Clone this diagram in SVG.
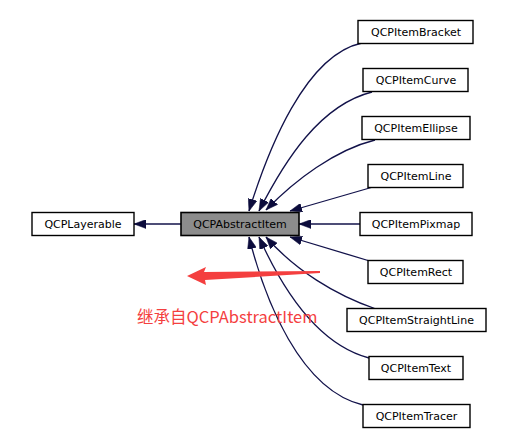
<svg xmlns="http://www.w3.org/2000/svg" width="518" height="444" viewBox="0 0 518 444">
<style>
.box{fill:#fff;stroke:#000;stroke-width:1.4}
.cur{fill:#8c8c8c;stroke:#000;stroke-width:1.6}
.lbl{font-family:"DejaVu Sans",sans-serif;font-size:11px;fill:#000;text-anchor:middle}
.edge{fill:none;stroke:#12124a;stroke-width:1.3}
</style>
<defs>
<marker id="ah" markerUnits="userSpaceOnUse" markerWidth="12" markerHeight="9" refX="12" refY="4.5" orient="auto">
<path d="M0,0 L12,4.5 L0,9 z" fill="#0c0c3c" stroke="#0c0c3c" stroke-width="0.5"/>
</marker>
</defs>
<rect width="518" height="444" fill="#fff"/>
<g id="connectors">
<path class="edge" marker-end="url(#ah)" d="M181,224 L134,224"/>
<path class="edge" marker-end="url(#ah)" d="M362,43 C305,55 268,150 249,211"/>
<path class="edge" marker-end="url(#ah)" d="M372,92 C320,105 285,160 259,211"/>
<path class="edge" marker-end="url(#ah)" d="M375,140 C335,150 295,180 266,210"/>
<path class="edge" marker-end="url(#ah)" d="M373,187 L290,211"/>
<path class="edge" marker-end="url(#ah)" d="M360,224 L299,224"/>
<path class="edge" marker-end="url(#ah)" d="M373,262 L290,237"/>
<path class="edge" marker-end="url(#ah)" d="M376,309 C335,295 295,270 266,237"/>
<path class="edge" marker-end="url(#ah)" d="M369,358 C320,345 285,295 259,237"/>
<path class="edge" marker-end="url(#ah)" d="M363,405 C300,390 265,300 249,237"/>
</g>
<g id="n_layerable"><rect class="box" x="32" y="212.5" width="102" height="23"/><text class="lbl" x="83" y="228">QCPLayerable</text></g>
<g id="n_abstractitem"><rect class="cur" x="181" y="212.5" width="118" height="23"/><text class="lbl" x="240" y="228">QCPAbstractItem</text></g>
<g id="n_bracket"><rect class="box" x="358" y="20.5" width="115" height="23"/><text class="lbl" x="416" y="36">QCPItemBracket</text></g>
<g id="n_curve"><rect class="box" x="363" y="68.5" width="105" height="23"/><text class="lbl" x="416" y="84">QCPItemCurve</text></g>
<g id="n_ellipse"><rect class="box" x="362" y="116.5" width="108" height="23"/><text class="lbl" x="416" y="132">QCPItemEllipse</text></g>
<g id="n_line"><rect class="box" x="368" y="164.5" width="95" height="23"/><text class="lbl" x="416" y="180">QCPItemLine</text></g>
<g id="n_pixmap"><rect class="box" x="360" y="212.5" width="112" height="23"/><text class="lbl" x="416" y="228">QCPItemPixmap</text></g>
<g id="n_rect"><rect class="box" x="368" y="260.5" width="95" height="23"/><text class="lbl" x="416" y="276">QCPItemRect</text></g>
<g id="n_straightline"><rect class="box" x="347" y="308.5" width="139" height="23"/><text class="lbl" x="416.5" y="324">QCPItemStraightLine</text></g>
<g id="n_text"><rect class="box" x="369" y="356.5" width="94" height="23"/><text class="lbl" x="416" y="372">QCPItemText</text></g>
<g id="n_tracer"><rect class="box" x="363" y="404.5" width="107" height="23"/><text class="lbl" x="416.5" y="420">QCPItemTracer</text></g>
<g id="annotation">
<polygon fill="#f43f3f" points="187,276 206,267 204,272 320,271 320,273 205,280 206,285"/>
<text x="137" y="323" font-family="'Noto Sans CJK SC',sans-serif" font-size="16.5" fill="#f43f3f">继承自QCPAbstractItem</text>
</g>
</svg>
